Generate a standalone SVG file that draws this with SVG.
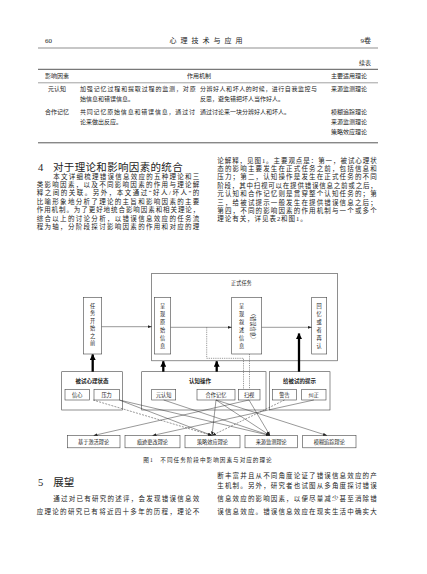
<svg xmlns="http://www.w3.org/2000/svg" width="427" height="574" viewBox="0 0 427 574">
<defs>
<style>
text{font-family:"Liberation Serif","Noto Sans CJK SC",serif;fill:#222}
.hd{font-size:7px}
.tb{font-size:6px}
.bd{font-size:6.5px}
.h2{font-size:10.5px}
.dg{font-size:5.2px}
.gt{font-size:5.5px;font-weight:bold}
.cap{font-size:5.6px}
.box{fill:#fff;stroke:#444;stroke-width:0.6}
.ln{fill:none;stroke:#333;stroke-width:0.5}
.dl{fill:none;stroke:#555;stroke-width:0.6;stroke-dasharray:1.2 1}
.ds{fill:none;stroke:#333;stroke-width:0.5;stroke-dasharray:2 1.2}
.thk{fill:none;stroke:#000;stroke-width:2.3}
</style>
<marker id="ah" viewBox="0 0 6 6" refX="6" refY="3" markerWidth="4" markerHeight="4" orient="auto" markerUnits="userSpaceOnUse"><path d="M0,0.8L6,3L0,5.2Z" fill="#222"/></marker>
<marker id="tk" viewBox="0 0 6 6" refX="5.5" refY="3" markerWidth="6" markerHeight="6" orient="auto" markerUnits="userSpaceOnUse"><path d="M0,0L6,3L0,6Z" fill="#000"/></marker>
</defs>
<rect width="427" height="574" fill="#fff"/>
<!-- running head -->
<text class="hd" x="45" y="43">60</text>
<text class="hd" x="208" y="43" text-anchor="middle" letter-spacing="4">心理技术与应用</text>
<text class="hd" x="371" y="43" text-anchor="end">9卷</text>
<line x1="38" y1="48" x2="378" y2="48" stroke="#444" stroke-width="0.6"/>
<!-- table -->
<text class="tb" x="371" y="64.5" text-anchor="end">续表</text>
<line x1="38" y1="69.3" x2="378" y2="69.3" stroke="#444" stroke-width="0.9"/>
<text class="tb" x="45" y="78">影响因素</text>
<text class="tb" x="199" y="78" text-anchor="middle">作用机制</text>
<text class="tb" x="331" y="78">主要适用理论</text>
<line x1="38" y1="82.8" x2="378" y2="82.8" stroke="#444" stroke-width="0.5"/>
<text class="tb" x="57" y="91" text-anchor="middle">元认知</text>
<text class="tb" x="80" y="91" textLength="115.7" lengthAdjust="spacing">加强记忆过程和提取过程的监测，对原</text>
<text class="tb" x="80" y="101">始信息和错误信息。</text>
<text class="tb" x="200" y="91" textLength="117" lengthAdjust="spacing">分辨好人和坏人的时候，进行自我监控与</text>
<text class="tb" x="200" y="101">反思，避免错把坏人当作好人。</text>
<text class="tb" x="331" y="91">来源监测理论</text>
<text class="tb" x="57" y="114" text-anchor="middle">合作记忆</text>
<text class="tb" x="80" y="114" textLength="115" lengthAdjust="spacing">共同记忆原始信息和错误信息，通过讨</text>
<text class="tb" x="80" y="124">论来做出反应。</text>
<text class="tb" x="200" y="114">通过讨论来一块分辨好人和坏人。</text>
<text class="tb" x="331" y="114">模糊追踪理论</text>
<text class="tb" x="331" y="124">来源监测理论</text>
<text class="tb" x="331" y="134">策略效应理论</text>
<line x1="38" y1="142.8" x2="378" y2="142.8" stroke="#444" stroke-width="0.9"/>
<!-- section 4 -->
<text class="h2" x="38" y="170.5">4</text>
<text class="h2" x="53" y="170.5" textLength="129.7" lengthAdjust="spacing">对于理论和影响因素的统合</text>
<text class="bd" x="53.3" y="178.5" textLength="146" lengthAdjust="spacing">本文详细梳理错误信息效应的五种理论和三</text>
<text class="bd" x="36.7" y="186.9" textLength="162.6" lengthAdjust="spacing">类影响因素，以及不同影响因素的作用与理论解</text>
<text class="bd" x="36.7" y="195.3" textLength="162.6" lengthAdjust="spacing">释之间的关联。另外，本文通过“好人/坏人”的</text>
<text class="bd" x="36.7" y="203.7" textLength="162.6" lengthAdjust="spacing">比喻形象地分析了理论的主旨和影响因素的主要</text>
<text class="bd" x="36.7" y="212.1" textLength="162.6" lengthAdjust="spacing">作用机制。为了更好地统合影响因素和相关理论，</text>
<text class="bd" x="36.7" y="220.5" textLength="162.6" lengthAdjust="spacing">综合以上的讨论分析，以错误信息效应的任务流</text>
<text class="bd" x="36.7" y="228.9" textLength="162.6" lengthAdjust="spacing">程为轴，分阶段探讨影响因素的作用和对应的理</text>
<text class="bd" x="217.3" y="162.5" textLength="159.4" lengthAdjust="spacing">论解释，见图1。主要观点是：第一，被试心理状</text>
<text class="bd" x="217.3" y="170.9" textLength="159.4" lengthAdjust="spacing">态的影响主要发生在正式任务之前，包括信息和</text>
<text class="bd" x="217.3" y="179.3" textLength="159.4" lengthAdjust="spacing">压力；第二，认知操作是发生在正式任务的不同</text>
<text class="bd" x="217.3" y="187.7" textLength="159.4" lengthAdjust="spacing">阶段，其中扫视可以在提供错误信息之前或之后，</text>
<text class="bd" x="217.3" y="196.1" textLength="159.4" lengthAdjust="spacing">元认知和合作记忆则是贯穿整个认知任务的；第</text>
<text class="bd" x="217.3" y="204.5" textLength="159.4" lengthAdjust="spacing">三，给被试提示一般发生在提供错误信息之后；</text>
<text class="bd" x="217.3" y="212.9" textLength="159.4" lengthAdjust="spacing">第四，不同的影响因素的作用机制与一个或多个</text>
<text class="bd" x="217.3" y="221.3" textLength="89.4" lengthAdjust="spacing">理论有关，详见表2和图1。</text>
<!-- figure 1 -->
<g id="formal-task"><rect class="box" x="151.7" y="273.5" width="185.6" height="87.3"/><text class="dg" x="231" y="284.5">正式任务</text></g>
<g id="before-task"><rect class="box" x="83.3" y="297.3" width="18.4" height="56.7"/>
<text class="dg" text-anchor="middle"><tspan x="92.5" y="307.5">任</tspan><tspan x="92.5" y="315">务</tspan><tspan x="92.5" y="322.5">开</tspan><tspan x="92.5" y="330">始</tspan><tspan x="92.5" y="337.5">之</tspan><tspan x="92.5" y="345">前</tspan></text></g>
<g id="original-info"><rect class="box" x="154.3" y="297.3" width="16.4" height="56.7"/>
<text class="dg" text-anchor="middle"><tspan x="162.5" y="307.5">呈</tspan><tspan x="162.5" y="315.5">现</tspan><tspan x="162.5" y="323.5">原</tspan><tspan x="162.5" y="331.5">始</tspan><tspan x="162.5" y="339.5">信</tspan><tspan x="162.5" y="347.5">息</tspan></text></g>
<g id="narrative-info"><rect class="box" x="231.7" y="297.3" width="30" height="56.7"/>
<text class="dg" text-anchor="middle"><tspan x="241.7" y="307.5">呈</tspan><tspan x="241.7" y="315.5">现</tspan><tspan x="241.7" y="323.5">叙</tspan><tspan x="241.7" y="331.5">述</tspan><tspan x="241.7" y="339.5">信</tspan><tspan x="241.7" y="347.5">息</tspan></text>
<text class="dg" transform="translate(251 326.5) rotate(90)" text-anchor="middle">（错误信息）</text></g>
<g id="recall"><rect class="box" x="311.7" y="297.3" width="15" height="56.7"/>
<text class="dg" text-anchor="middle"><tspan x="319.2" y="307.5">回</tspan><tspan x="319.2" y="315.5">忆</tspan><tspan x="319.2" y="323.5">或</tspan><tspan x="319.2" y="331.5">者</tspan><tspan x="319.2" y="339.5">再</tspan><tspan x="319.2" y="347.5">认</tspan></text></g>
<g id="mental-state"><rect class="box" x="61.7" y="371.7" width="60.6" height="38.3"/><text class="gt" x="92" y="382.5" text-anchor="middle">被试心理状态</text>
<rect class="box" x="65" y="389.3" width="24.3" height="10.7"/><text class="dg" x="77.2" y="396.6" text-anchor="middle">信心</text>
<rect class="box" x="94" y="389.3" width="25.3" height="10.7"/><text class="dg" x="106.6" y="396.6" text-anchor="middle">压力</text></g>
<g id="cognitive-ops"><rect class="box" x="141.7" y="371.7" width="124.3" height="38.3"/><text class="gt" x="200" y="382.5" text-anchor="middle">认知操作</text>
<rect class="box" x="151.7" y="389.3" width="24" height="10.7"/><text class="dg" x="163.7" y="396.6" text-anchor="middle">元认知</text>
<rect class="box" x="197" y="389.3" width="38" height="10.7"/><text class="dg" x="216" y="396.6" text-anchor="middle">合作记忆</text>
<rect class="box" x="238.3" y="389.3" width="21.7" height="10.7"/><text class="dg" x="249.1" y="396.6" text-anchor="middle">扫视</text></g>
<g id="hints"><rect class="box" x="269.3" y="371.7" width="60.7" height="38.3"/><text class="gt" x="299.6" y="382.5" text-anchor="middle">给被试的提示</text>
<rect class="box" x="272.3" y="389.3" width="24.4" height="10.7"/><text class="dg" x="284.5" y="396.6" text-anchor="middle">警告</text>
<rect class="box" x="301.7" y="389.3" width="24.3" height="10.7"/><text class="dg" x="313.8" y="396.6" text-anchor="middle">纠正</text></g>
<g id="t-activation"><rect class="box" x="67.3" y="435.5" width="52.7" height="12.3"/><text class="dg" x="93.6" y="443.5" text-anchor="middle">基于激活理论</text></g>
<g id="t-trace"><rect class="box" x="125" y="435.5" width="55" height="12.3"/><text class="dg" x="152.5" y="443.5" text-anchor="middle">痕迹更改理论</text></g>
<g id="t-strategy"><rect class="box" x="185" y="435.5" width="55" height="12.3"/><text class="dg" x="212.5" y="443.5" text-anchor="middle">策略效应理论</text></g>
<g id="t-source"><rect class="box" x="245" y="435.5" width="52.3" height="12.3"/><text class="dg" x="271.2" y="443.5" text-anchor="middle">来源监测理论</text></g>
<g id="t-fuzzy"><rect class="box" x="302.7" y="435.5" width="53.3" height="12.3"/><text class="dg" x="329.3" y="443.5" text-anchor="middle">模糊追踪理论</text></g>
<g id="connectors">
<line class="ln" x1="101.7" y1="326.7" x2="151.7" y2="326.7" marker-end="url(#ah)"/>
<line class="ln" x1="170.7" y1="327.3" x2="231.7" y2="327.3" marker-end="url(#ah)"/>
<line class="ln" x1="261.7" y1="327.3" x2="311.7" y2="327.3" marker-end="url(#ah)"/>
<polyline class="dl" points="206.7,327.3 206.7,358.3 243.5,358.3 243.5,389.3"/>
<line class="dl" x1="249.5" y1="354" x2="249.5" y2="389.3"/>
<line class="thk" x1="92.7" y1="371.7" x2="92.7" y2="354.5" marker-end="url(#tk)"/>
<line class="thk" x1="163.3" y1="371.7" x2="163.3" y2="361.3" marker-end="url(#tk)"/>
<line class="thk" x1="216.7" y1="371.7" x2="216.7" y2="361.3" marker-end="url(#tk)"/>
<line class="thk" x1="299" y1="371.7" x2="299" y2="333.5" marker-end="url(#tk)"/>
<line class="ds" x1="93" y1="400" x2="212" y2="435.5" marker-end="url(#ah)"/>
<line class="ln" x1="119.3" y1="400" x2="270" y2="435.5" marker-end="url(#ah)"/>
<line class="ln" x1="119.3" y1="400" x2="212" y2="435.5" marker-end="url(#ah)"/>
<line class="ln" x1="163.7" y1="400" x2="270" y2="435.5" marker-end="url(#ah)"/>
<line class="ln" x1="216" y1="400" x2="327" y2="435.5" marker-end="url(#ah)"/>
<line class="ln" x1="216" y1="400" x2="270" y2="435.5" marker-end="url(#ah)"/>
<line class="ln" x1="216" y1="400" x2="212" y2="435.5" marker-end="url(#ah)"/>
<line class="ln" x1="249" y1="400" x2="93.6" y2="435.5" marker-end="url(#ah)"/>
<line class="ln" x1="249" y1="400" x2="270" y2="435.5" marker-end="url(#ah)"/>
<line class="ds" x1="284.5" y1="400" x2="212" y2="435.5" marker-end="url(#ah)"/>
<line class="ln" x1="313.8" y1="400" x2="152.5" y2="435.5" marker-end="url(#ah)"/>
</g>
<text class="cap" x="143.3" y="461.5" textLength="128.4" lengthAdjust="spacing">图1　不同任务阶段中影响因素与对应的理论</text>
<!-- section 5 -->
<text class="h2" x="38" y="486">5</text>
<text class="h2" x="53.3" y="486">展望</text>
<text class="bd" x="53.3" y="500.8" textLength="146" lengthAdjust="spacing">通过对已有研究的述评，会发现错误信息效</text>
<text class="bd" x="36.7" y="514" textLength="162.6" lengthAdjust="spacing">应理论的研究已有将近四十多年的历程，理论不</text>
<text class="bd" x="217.3" y="477.5" textLength="159.4" lengthAdjust="spacing">断丰富并且从不同角度论证了错误信息效应的产</text>
<text class="bd" x="217.3" y="488.2" textLength="159.4" lengthAdjust="spacing">生机制。另外，研究者也试图从多角度探讨错误</text>
<text class="bd" x="217.3" y="500.8" textLength="159.4" lengthAdjust="spacing">信息效应的影响因素，以便尽量减少甚至消除错</text>
<text class="bd" x="217.3" y="513.5" textLength="159.4" lengthAdjust="spacing">误信息效应。错误信息效应在现实生活中确实大</text>
</svg>
